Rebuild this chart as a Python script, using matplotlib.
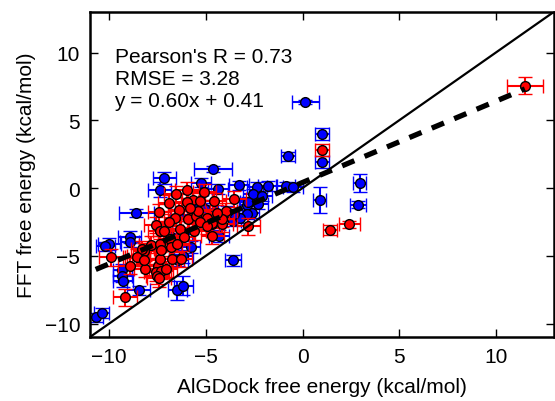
import matplotlib
matplotlib.use("Agg")
import matplotlib.pyplot as plt
import numpy as np

# AlGDock (x) vs FFT (y) free energies, kcal/mol
blue_x = [0.15, 1.0, 1.0, 2.95, 0.88, 2.87, -0.76, -4.63, -7.15, -7.4,
          -5.25, -4.38, -3.29, -2.35, -1.8, -0.88, -0.5, -2.56, -2.09, -2.3,
          -2.87, -2.83, -2.64, -2.9, -3.59, -3.22, -3.55, -3.59, -8.6, -8.95,
          -10.0, -9.33, -9.33, -9.28, -8.47, -6.48, -6.17, -10.7, -10.4, -6.2,
          -6.86, -5.79, -6.17, -6.43, -5.0, -4.85, -4.33, -3.9, -5.05, -6.38,
          -8.95, -10.2]
blue_y = [6.33, 4.0, 1.9, 0.37, -0.89, -1.23, 2.34, 1.4, 0.74, -0.12,
          0.4, -0.07, 0.2, 0.1, 0.15, 0.13, 0.05, -0.42, -0.6, -1.18,
          -1.26, -1.01, -1.85, -1.95, -2.45, -2.2, -1.92, -5.32, -1.85, -3.64,
          -4.15, -6.03, -6.48, -6.89, -7.55, -7.53, -7.21, -9.55, -9.23, -3.4,
          -3.52, -4.38, -5.05, -5.3, -1.68, -2.05, -3.52, -1.8, -1.55, -2.0,
          -4.0, -4.3]
blue_xerr = [0.7, 0.35, 0.35, 0.35, 0.35, 0.4, 0.35, 1.0, 0.6, 0.6,
             0.5, 0.5, 0.5, 0.5, 0.5, 0.5, 0.5, 0.5, 0.5, 0.5,
             0.4, 0.4, 0.4, 0.4, 0.4, 0.4, 0.4, 0.4, 0.9, 0.6,
             0.6, 0.5, 0.5, 0.5, 0.6, 0.5, 0.5, 0.4, 0.4, 0.5,
             0.5, 0.5, 0.5, 0.5, 0.5, 0.5, 0.5, 0.5, 0.5, 0.5,
             0.5, 0.5]
blue_yerr = [0.15, 0.45, 0.45, 0.7, 0.95, 0.25, 0.35, 0.2, 0.45, 0.55,
             0.35, 0.35, 0.35, 0.35, 0.35, 0.35, 0.35, 0.35, 0.35, 0.35,
             0.35, 0.35, 0.35, 0.35, 0.35, 0.35, 0.35, 0.4, 0.3, 0.45,
             0.45, 0.45, 0.45, 0.45, 0.35, 0.7, 0.7, 0.35, 0.35, 0.45,
             0.45, 0.45, 0.45, 0.45, 0.45, 0.45, 0.45, 0.45, 0.45, 0.45,
             0.35, 0.35]

red_x = [11.5, 1.0, 2.42, 1.41, -3.55, -2.81, -6.55, -5.98, -5.09, -5.65,
         -4.58, -6.89, -7.42, -6.38, -6.58, -5.95, -5.52, -4.92, -4.66, -4.18,
         -7.58, -7.37, -7.84, -4.67, -8.47, -8.18, -7.49, -7.58, -7.32, -6.75,
         -8.13, -8.95, -9.91, -9.18, -7.15, -6.86, -6.34, -6.14, -7.35, -6.83,
         -8.3, -7.35, -7.09, -8.56, -7.52, -6.31, -7.43, -8.21, -5.4, -3.98,
         -4.93, -5.28, -4.68, -4.16, -4.42, -4.93, -5.31, -6.0, -7.3, -6.5,
         -5.6, -5.8, -6.9]
red_y = [7.56, 2.83, -2.68, -3.1, -0.81, -2.83, -0.42, -0.12, -0.32, -0.87,
         -0.94, -1.1, -1.8, -1.65, -2.2, -2.29, -2.05, -2.41, -2.66, -2.62,
         -2.72, -3.19, -4.17, -3.55, -5.0, -4.63, -5.74, -6.23, -6.11, -5.24,
         -5.98, -5.74, -5.12, -8.07, -3.15, -3.79, -3.03, -3.64, -4.14, -4.38,
         -4.5, -5.24, -5.98, -5.12, -6.48, -5.24, -6.67, -5.3, -1.68, -1.7,
         -2.24, -2.53, -2.58, -2.29, -1.85, -2.78, -0.94, -1.0, -4.6, -4.1,
         -3.2, -1.5, -2.5]
red_xerr = [0.95, 0.35, 0.55, 0.35] + [0.6] * 59
red_yerr = [0.6, 0.45, 0.25, 0.35] + [0.6] * 59

pearson_r = 0.73
rmse = 3.28
slope = 0.60
intercept = 0.41

plt.rcParams["font.family"] = ["Liberation Sans", "DejaVu Sans"]
plt.rcParams["font.size"] = 15
plt.rcParams["lines.scale_dashes"] = False

fig = plt.figure(figsize=(5.55, 4.02), dpi=100)
ax = fig.add_axes([0.162, 0.159, 0.836, 0.809])

ax.errorbar(blue_x, blue_y, xerr=blue_xerr, yerr=blue_yerr, fmt="o",
            color="blue", ecolor="blue", mfc="blue", mec="black", mew=1,
            ms=7, elinewidth=1.5, capsize=5, capthick=1.5, zorder=2)
ax.errorbar(red_x, red_y, xerr=red_xerr, yerr=red_yerr, fmt="o",
            color="red", ecolor="red", mfc="red", mec="black", mew=1,
            ms=7, elinewidth=1.5, capsize=5, capthick=1.5, zorder=3)

lo, hi = -11, 13
ax.plot([lo, hi], [lo, hi], color="black", lw=1.6, zorder=4)

all_x = np.array(blue_x + red_x)
fx = np.array([all_x.min(), all_x.max()])
ax.plot(fx, slope * fx + intercept, color="black", lw=3.8,
        dashes=(9.5, 8), zorder=5)

ax.text(0.053, 0.893,
        "Pearson's R = %.2f\nRMSE = %.2f\ny = %.2fx + %.2f"
        % (pearson_r, rmse, slope, intercept),
        transform=ax.transAxes, va="top", ha="left", linespacing=1.2)

ax.set_xlim(lo, hi)
ax.set_ylim(lo, hi)
ax.set_xticks([-10, -5, 0, 5, 10])
ax.set_yticks([-10, -5, 0, 5, 10])
ax.set_xticklabels(["\u221210", "\u22125", "0", "5", "10"])
ax.set_yticklabels(["\u221210", "\u22125", "0", "5", "10"])
ax.tick_params(direction="in", top=True, right=True, length=6, width=1,
               pad=7)
for s in ax.spines.values():
    s.set_linewidth(1.8)

ax.set_xlabel("AlGDock free energy (kcal/mol)", labelpad=8)
ax.set_ylabel("FFT free energy (kcal/mol)", labelpad=6)

fig.savefig("out.png", dpi=100)
